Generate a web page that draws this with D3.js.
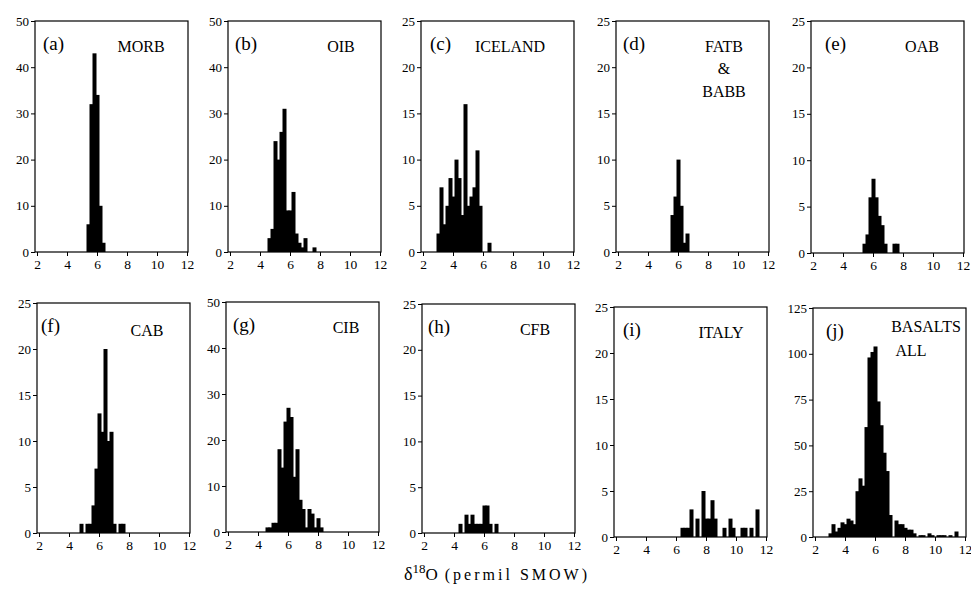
<!DOCTYPE html>
<html>
<head>
<meta charset="utf-8">
<script src="https://cdn.jsdelivr.net/npm/d3@7"></script>
<style>
  body { margin: 0; background: #fff; }
  svg text { font-family: "Liberation Serif", "Times New Roman", serif; fill: #000; }
</style>
</head>
<body>
<svg id="chart" width="971" height="598"></svg>
<script>
// histogram data: [bin start (permil), count], bins are 0.2 permil wide
var morb = [[5.3,6],[5.5,32],[5.7,43],[5.9,34],[6.1,10],[6.3,2]]
var oib = [[4.5,3],[4.7,5],[4.9,24],[5.1,20],[5.3,26],[5.5,31],[5.7,9],[5.9,9],[6.1,13],[6.3,4],[6.5,2],[6.7,1],[6.9,3],[7.5,1]]
var iceland = [[2.9,2],[3.1,7],[3.3,3],[3.5,5],[3.7,8],[3.9,6],[4.1,10],[4.3,8],[4.5,4],[4.7,16],[4.9,5],[5.1,6],[5.3,7],[5.5,11],[5.7,5],[6.3,1]]
var fatb = [[5.5,4],[5.7,6],[5.9,10],[6.1,5],[6.3,1],[6.5,2]]
var oab = [[5.3,1],[5.5,2],[5.7,6],[5.9,8],[6.1,6],[6.3,4],[6.5,3],[6.7,1],[7.3,1],[7.5,1]]
var cab = [[4.7,1],[5.1,1],[5.3,1],[5.5,3],[5.7,7],[5.9,13],[6.1,11],[6.3,20],[6.5,10],[6.7,11],[6.9,1],[7.3,1],[7.5,1]]
var cib = [[4.5,1],[4.7,1],[4.9,2],[5.1,2],[5.3,18],[5.5,14],[5.7,24],[5.9,27],[6.1,25],[6.3,12],[6.5,18],[6.7,7],[6.9,5],[7.1,1],[7.3,5],[7.5,4],[7.7,1],[7.9,3],[8.1,1]]
var cfb = [[4.3,1],[4.7,2],[4.9,1],[5.1,2],[5.3,1],[5.5,1],[5.7,1],[5.9,3],[6.1,3],[6.3,1],[6.7,1]]
var italy = [[6.3,1],[6.5,1],[6.7,1],[6.9,3],[7.3,2],[7.7,5],[7.9,2],[8.1,2],[8.3,4],[8.5,2],[9.1,1],[9.5,2],[9.7,1],[10.3,1],[10.5,1],[10.9,1],[11.3,3]]
var basaltsAll = [[2.9,2],[3.1,7],[3.3,3],[3.5,5],[3.7,8],[3.9,7],[4.1,10],[4.3,9],[4.5,7],[4.7,25],[4.9,32],[5.1,28],[5.3,60],[5.5,98],[5.7,101],[5.9,104],[6.1,74],[6.3,61],[6.5,46],[6.7,36],[6.9,12],[7.3,9],[7.5,7],[7.7,7],[7.9,5],[8.1,4],[8.3,4],[8.5,2],[8.9,1],[9.1,1],[9.5,2],[9.7,1],[10.1,1],[10.3,1],[10.5,1],[10.9,1],[11.3,3]]

var binWidth = 0.2
var panelData = [morb, oib, iceland, fatb, oab, cab, cib, cfb, italy, basaltsAll]
var panelIds = ["(a)","(b)","(c)","(d)","(e)","(f)","(g)","(h)","(i)","(j)"]
var panelNames = [["MORB"],["OIB"],["ICELAND"],["FATB","&","BABB"],["OAB"],["CAB"],["CIB"],["CFB"],["ITALY"],["BASALTS","ALL"]]
var yMaxes = [50,50,25,25,25,25,50,25,25,125]
var yTickSteps = [10,10,5,5,5,5,10,5,5,25]
var xTicks = [2,4,6,8,10,12]

// frame positions (left, top, bottom) of each panel
var lefts = [35,228,421,616,811, 37,226,422,614,813]
var tops = [21,21,21,21,21, 303,302,304,307,308]
var bottoms = [252,252,252,252,253, 533,532,533,537,537]
var frameW = 153
// label placement inside each panel
var idDx = [8,7,9,7,14, 4,7,6,9,13]
var nameCx = [106,113,89,108,111, 110,120,113,107,113]
var nameBase = [[31],[31],[31],[31,53,76],[31], [33],[31],[31],[31],[24,48]]
var nameShift = [[0],[0],[0],[0,0,0],[0], [0],[0],[0],[0],[0,-15]]

var svg = d3.select("#chart")

panelData.forEach(function(data, i) {
  var L = lefts[i], T = tops[i], B = bottoms[i]
  var g = svg.append("g")

  var x = d3.scaleLinear().domain([2,12]).range([L+2, L+152])
  var y = d3.scaleLinear().domain([0, yMaxes[i]]).range([B, T])
  var yTicks = d3.range(0, yMaxes[i] + 1, yTickSteps[i])

  g.append("rect")
    .attr("x", L).attr("y", T)
    .attr("width", frameW).attr("height", B - T)
    .attr("fill", "none").attr("stroke", "#000").attr("stroke-width", 1.2)

  // bars overlap by 1px so neighbours join into a solid block
  g.selectAll("rect.bar")
    .data(data)
    .enter()
    .append("rect")
    .attr("class", "bar")
    .attr("x", function(d) { return x(d[0]); })
    .attr("width", function(d) { return x(d[0] + binWidth) - x(d[0]) + 1; })
    .attr("y", function(d) { return y(d[1]); })
    .attr("height", function(d) { return y(0) - y(d[1]); })
    .attr("fill", "#000")

  var xAxis = d3.axisBottom(x).tickValues(xTicks).tickSize(4).tickSizeOuter(0).tickPadding(3)
  var gx = g.append("g").attr("transform", "translate(0," + B + ")").call(xAxis)
  gx.select(".domain").remove()
  gx.selectAll("text").style("font-size", "13.5px").style("font-family", "Liberation Serif")

  var yAxis = d3.axisLeft(y).tickValues(yTicks).tickSize(4).tickSizeOuter(0).tickPadding(2)
  var gy = g.append("g").attr("transform", "translate(" + L + ",0)").call(yAxis)
  gy.select(".domain").remove()
  gy.selectAll("text").style("font-size", "13px").style("font-family", "Liberation Serif")

  g.append("text")
    .attr("x", L + idDx[i])
    .attr("y", T + 29)
    .style("font-size", "19px")
    .text(panelIds[i])

  panelNames[i].forEach(function(n, k) {
    g.append("text")
      .attr("x", L + nameCx[i] + nameShift[i][k])
      .attr("y", T + nameBase[i][k])
      .attr("text-anchor", "middle")
      .style("font-size", "16px")
      .text(n)
  })
})

var lab = svg.append("text")
  .attr("x", 497)
  .attr("y", 580)
  .attr("text-anchor", "middle")
lab.append("tspan").style("font-size", "18px").text("\u03b4")
lab.append("tspan").style("font-size", "13px").attr("dy", -7).text("18")
lab.append("tspan").style("font-size", "17px").attr("dy", 7).text("O")
lab.append("tspan").style("font-size", "16px").style("letter-spacing", "3px").text(" (permil SMOW)")
</script>
</body>
</html>
